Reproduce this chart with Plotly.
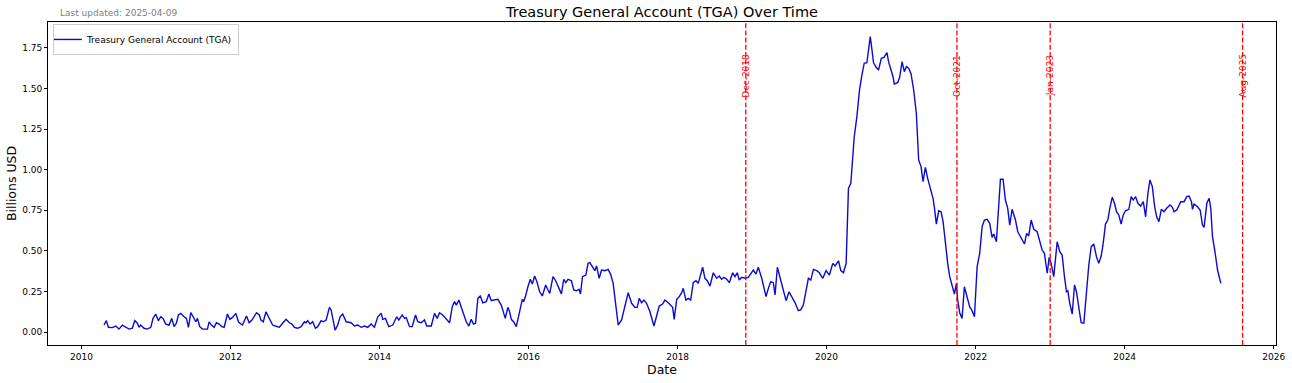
import pandas as pd
import plotly.graph_objects as go

# ---- data (decimal year, value in the chart's units) ----
years = [
    2010.302, 2010.334, 2010.361, 2010.414, 2010.459, 2010.504, 2010.549, 2010.594, 2010.638, 2010.683,
    2010.715, 2010.750, 2010.773, 2010.795, 2010.840, 2010.884, 2010.930, 2010.961, 2010.997, 2011.032,
    2011.064, 2011.095, 2011.132, 2011.176, 2011.212, 2011.243, 2011.274, 2011.301, 2011.333, 2011.378,
    2011.409, 2011.436, 2011.468, 2011.499, 2011.535, 2011.557, 2011.589, 2011.624, 2011.691, 2011.714,
    2011.745, 2011.781, 2011.812, 2011.848, 2011.884, 2011.915, 2011.960, 2011.992, 2012.027, 2012.073,
    2012.107, 2012.140, 2012.161, 2012.215, 2012.251, 2012.288, 2012.319, 2012.349, 2012.386, 2012.408,
    2012.440, 2012.476, 2012.497, 2012.543, 2012.565, 2012.601, 2012.655, 2012.699, 2012.745, 2012.789,
    2012.825, 2012.856, 2012.901, 2012.946, 2012.991, 2013.013, 2013.035, 2013.067, 2013.102, 2013.138,
    2013.169, 2013.215, 2013.246, 2013.282, 2013.327, 2013.349, 2013.371, 2013.403, 2013.438, 2013.470,
    # 2013.5 - 2016.8
    2013.505, 2013.551, 2013.618, 2013.663, 2013.707, 2013.753, 2013.797, 2013.841, 2013.887, 2013.931,
    2013.976, 2014.022, 2014.043, 2014.079, 2014.124, 2014.177, 2014.231, 2014.258, 2014.304, 2014.335,
    2014.358, 2014.402, 2014.438, 2014.483, 2014.513, 2014.559, 2014.603, 2014.634, 2014.694, 2014.738,
    2014.774, 2014.805, 2014.849, 2014.895, 2014.940, 2014.976, 2015.007, 2015.030, 2015.065, 2015.097,
    2015.128, 2015.164, 2015.199, 2015.231, 2015.262, 2015.289, 2015.320, 2015.352, 2015.387, 2015.433,
    2015.468, 2015.500, 2015.534, 2015.589, 2015.634, 2015.665, 2015.688, 2015.723, 2015.746, 2015.769,
    2015.800, 2015.836, 2015.880, 2015.917, 2015.934, 2015.961, 2015.992, 2016.024, 2016.051, 2016.082,
    2016.113, 2016.149, 2016.185, 2016.230, 2016.261, 2016.284, 2016.328, 2016.364, 2016.409, 2016.441,
    2016.472, 2016.499, 2016.530, 2016.575, 2016.606, 2016.642, 2016.677, 2016.696, 2016.723, 2016.768,
    2016.798,
    # 2016.8 - 2020.0
    2016.821, 2016.857, 2016.888, 2016.911, 2016.946, 2016.978, 2017.023, 2017.067, 2017.099, 2017.134,
    2017.171, 2017.202, 2017.247, 2017.292, 2017.336, 2017.382, 2017.426, 2017.457, 2017.484, 2017.516,
    2017.547, 2017.583, 2017.628, 2017.682, 2017.718, 2017.753, 2017.798, 2017.829, 2017.874, 2017.906,
    2017.933, 2017.954, 2017.987, 2018.022, 2018.054, 2018.075, 2018.111, 2018.143, 2018.175, 2018.210,
    2018.246, 2018.277, 2018.309, 2018.336, 2018.367, 2018.398, 2018.434, 2018.479, 2018.524, 2018.559,
    2018.591, 2018.622, 2018.659, 2018.694, 2018.739, 2018.770, 2018.801, 2018.828, 2018.860, 2018.905,
    2018.949, 2018.981, 2019.016, 2019.052, 2019.083, 2019.129, 2019.187, 2019.218, 2019.250, 2019.285,
    2019.308, 2019.339, 2019.375, 2019.411, 2019.456, 2019.496, 2019.532, 2019.577, 2019.621, 2019.653,
    2019.688, 2019.725, 2019.756, 2019.788, 2019.823, 2019.868, 2019.903, 2019.949, 2019.993,
    # 2020 - 2022.5
    2020.038, 2020.083, 2020.114, 2020.159, 2020.191, 2020.226, 2020.262, 2020.293, 2020.325, 2020.352,
    2020.370, 2020.406, 2020.441, 2020.473, 2020.504, 2020.540, 2020.562, 2020.585, 2020.608, 2020.629,
    2020.665, 2020.696, 2020.733, 2020.769, 2020.809, 2020.830, 2020.863, 2020.890, 2020.907, 2020.952,
    2020.979, 2021.011, 2021.042, 2021.069, 2021.100, 2021.132, 2021.167, 2021.203, 2021.234, 2021.266,
    2021.293, 2021.324, 2021.355, 2021.391, 2021.427, 2021.445, 2021.472, 2021.503, 2021.535, 2021.562,
    2021.593, 2021.624, 2021.651, 2021.683, 2021.714, 2021.741, 2021.758, 2021.785, 2021.817, 2021.848,
    2021.884, 2021.919, 2021.952, 2021.983, 2022.019, 2022.054, 2022.086, 2022.117, 2022.153, 2022.188,
    2022.220, 2022.242, 2022.278, 2022.309, 2022.332, 2022.368, 2022.399, 2022.430, 2022.457, 2022.489,
    # 2022.5 - 2025.3
    2022.534, 2022.565, 2022.610, 2022.655, 2022.683, 2022.712, 2022.745, 2022.780, 2022.825, 2022.860,
    2022.892, 2022.923, 2022.960, 2022.987, 2023.013, 2023.048, 2023.094, 2023.129, 2023.161, 2023.192,
    2023.219, 2023.237, 2023.263, 2023.296, 2023.327, 2023.353, 2023.384, 2023.416, 2023.452, 2023.488,
    2023.519, 2023.551, 2023.586, 2023.622, 2023.653, 2023.685, 2023.712, 2023.743, 2023.774, 2023.801,
    2023.833, 2023.864, 2023.891, 2023.922, 2023.953, 2023.981, 2024.011, 2024.056, 2024.088, 2024.115,
    2024.147, 2024.177, 2024.214, 2024.250, 2024.281, 2024.312, 2024.339, 2024.371, 2024.402, 2024.429,
    2024.459, 2024.492, 2024.527, 2024.563, 2024.608, 2024.640, 2024.661, 2024.698, 2024.751, 2024.796,
    2024.832, 2024.863, 2024.895, 2024.909, 2024.930, 2024.976, 2025.011, 2025.043, 2025.064, 2025.101,
    2025.132, 2025.154, 2025.177, 2025.207, 2025.245, 2025.289,
]

tga = [
    0.043, 0.070, 0.029, 0.027, 0.037, 0.018, 0.043, 0.029, 0.018, 0.023,
    0.070, 0.054, 0.029, 0.043, 0.023, 0.018, 0.029, 0.084, 0.111, 0.070,
    0.094, 0.084, 0.049, 0.043, 0.084, 0.033, 0.054, 0.105, 0.115, 0.094,
    0.084, 0.029, 0.119, 0.094, 0.063, 0.084, 0.033, 0.018, 0.018, 0.063,
    0.043, 0.029, 0.057, 0.049, 0.033, 0.029, 0.111, 0.078, 0.090, 0.115,
    0.063, 0.049, 0.043, 0.099, 0.057, 0.074, 0.094, 0.119, 0.105, 0.074,
    0.063, 0.125, 0.105, 0.063, 0.043, 0.037, 0.029, 0.054, 0.078, 0.057,
    0.049, 0.029, 0.023, 0.033, 0.063, 0.057, 0.070, 0.049, 0.063, 0.023,
    0.033, 0.070, 0.063, 0.074, 0.152, 0.136, 0.084, 0.012, 0.043, 0.094,
    # 2013.5 - 2016.8
    0.111, 0.063, 0.057, 0.037, 0.043, 0.029, 0.037, 0.029, 0.049, 0.029,
    0.094, 0.115, 0.078, 0.084, 0.033, 0.043, 0.094, 0.074, 0.105, 0.084,
    0.090, 0.033, 0.033, 0.105, 0.063, 0.057, 0.074, 0.037, 0.037, 0.115,
    0.084, 0.119, 0.105, 0.084, 0.057, 0.156, 0.187, 0.166, 0.197, 0.152,
    0.115, 0.063, 0.037, 0.078, 0.049, 0.054, 0.207, 0.222, 0.180, 0.187,
    0.234, 0.193, 0.197, 0.201, 0.166, 0.125, 0.084, 0.152, 0.125, 0.078,
    0.063, 0.033, 0.115, 0.201, 0.187, 0.222, 0.279, 0.325, 0.296, 0.345,
    0.310, 0.248, 0.222, 0.290, 0.259, 0.238, 0.341, 0.316, 0.269, 0.234,
    0.325, 0.304, 0.325, 0.316, 0.259, 0.254, 0.263, 0.234, 0.341, 0.351,
    0.423,
    # 2016.8 - 2020.0
    0.427, 0.402, 0.378, 0.407, 0.331, 0.382, 0.378, 0.386, 0.357, 0.300,
    0.177, 0.043, 0.074, 0.156, 0.242, 0.177, 0.152, 0.152, 0.207, 0.180,
    0.197, 0.177, 0.125, 0.037, 0.105, 0.160, 0.172, 0.197, 0.180, 0.166,
    0.152, 0.078, 0.201, 0.218, 0.242, 0.269, 0.197, 0.207, 0.197, 0.304,
    0.316, 0.300, 0.362, 0.399, 0.331, 0.316, 0.283, 0.365, 0.331, 0.345,
    0.325, 0.337, 0.325, 0.304, 0.365, 0.341, 0.365, 0.320, 0.337, 0.331,
    0.337, 0.362, 0.382, 0.357, 0.399, 0.331, 0.218, 0.269, 0.310, 0.304,
    0.228, 0.399, 0.331, 0.279, 0.193, 0.248, 0.218, 0.180, 0.131, 0.136,
    0.166, 0.259, 0.331, 0.320, 0.386, 0.378, 0.365, 0.331, 0.378,
    # 2020 - 2022.5
    0.351, 0.423, 0.407, 0.439, 0.378, 0.365, 0.423, 0.885, 0.916, 1.121,
    1.200, 1.327, 1.491, 1.583, 1.656, 1.659, 1.738, 1.820, 1.738, 1.659,
    1.631, 1.614, 1.686, 1.692, 1.721, 1.666, 1.614, 1.573, 1.528, 1.536,
    1.569, 1.666, 1.604, 1.635, 1.625, 1.590, 1.491, 1.348, 1.060, 1.019,
    0.926, 1.015, 0.947, 0.885, 0.824, 0.768, 0.665, 0.747, 0.741, 0.680,
    0.546, 0.423, 0.341, 0.290, 0.234, 0.300, 0.197, 0.119, 0.084, 0.279,
    0.218, 0.156, 0.131, 0.094, 0.402, 0.485, 0.649, 0.690, 0.694, 0.670,
    0.583, 0.604, 0.556, 0.752, 0.941, 0.941, 0.813, 0.762, 0.659, 0.756,
    # 2022.5 - 2025.3
    0.690, 0.618, 0.583, 0.542, 0.608, 0.592, 0.690, 0.633, 0.618, 0.556,
    0.505, 0.485, 0.362, 0.460, 0.423, 0.341, 0.556, 0.495, 0.474, 0.341,
    0.248, 0.254, 0.177, 0.111, 0.290, 0.248, 0.136, 0.057, 0.054, 0.269,
    0.413, 0.526, 0.542, 0.464, 0.423, 0.468, 0.546, 0.665, 0.690, 0.762,
    0.830, 0.793, 0.741, 0.721, 0.665, 0.721, 0.747, 0.756, 0.834, 0.813,
    0.834, 0.793, 0.776, 0.803, 0.710, 0.855, 0.937, 0.896, 0.772, 0.710,
    0.680, 0.756, 0.741, 0.762, 0.782, 0.768, 0.741, 0.752, 0.803, 0.803,
    0.834, 0.838, 0.803, 0.756, 0.789, 0.772, 0.752, 0.659, 0.645, 0.793,
    0.824, 0.762, 0.587, 0.505, 0.382, 0.300,
]

event_dates = ["2018-12-01", "2021-10-01", "2023-01-01", "2025-08-01"]
event_labels = ["Dec-2018", "Oct-2021", "Jan-2023", "Aug-2025"]

series_name = "Treasury General Account (TGA)"
title_text = "Treasury General Account (TGA) Over Time"
updated_text = "Last updated: 2025-04-09"


def dec_to_date(y):
    yr = int(y)
    start = pd.Timestamp(year=yr, month=1, day=1)
    end = pd.Timestamp(year=yr + 1, month=1, day=1)
    return start + (end - start) * (y - yr)


dates = [dec_to_date(y) for y in years]

FONT = "DejaVu Sans"
W, H = 1292, 383
L, R, T, B = 48, 16, 22, 38
pw, ph = W - L - R, H - T - B

fig = go.Figure()
fig.add_trace(go.Scatter(
    x=dates, y=tga, mode="lines", name=series_name,
    line=dict(color="#0a0ad0", width=1.4),
))

for d in event_dates:
    fig.add_shape(type="line", xref="x", yref="paper", x0=d, x1=d, y0=0, y1=1,
                  line=dict(color="red", width=1.3, dash="5px,2.2px"))

for d, lab in zip(event_dates, event_labels):
    fig.add_annotation(x=d, xref="x", y=(H - B - 76) / ph, yref="paper",
                       text=lab, textangle=-90, showarrow=False,
                       font=dict(family=FONT, size=9, color="red"),
                       xanchor="center", yanchor="middle")

fig.add_annotation(x=(58 - L) / pw, xref="paper", y=(H - B - 13) / ph, yref="paper",
                   text=updated_text, showarrow=False, xanchor="left", yanchor="middle",
                   font=dict(family=FONT, size=9, color="#808080"))

fig.update_layout(
    width=W, height=H,
    margin=dict(l=L, r=R, t=T, b=B, autoexpand=False),
    paper_bgcolor="white", plot_bgcolor="white",
    font=dict(family=FONT, size=9, color="black"),
    title=dict(text=title_text, x=(L + pw / 2) / W, xanchor="center",
               y=1 - 12 / H, yanchor="middle", yref="container",
               font=dict(family=FONT, size=14.5, color="black")),
    showlegend=True,
    legend=dict(x=0.004, y=0.994, xanchor="left", yanchor="top",
                bgcolor="rgba(255,255,255,0.8)", bordercolor="#cccccc", borderwidth=1,
                font=dict(family=FONT, size=9), itemwidth=30, indentation=-7),
    xaxis=dict(
        type="date",
        range=[dec_to_date(2009.55), dec_to_date(2026.03)],
        tick0="2010-01-01", dtick="M24", tickformat="%Y",
        showgrid=False, zeroline=False,
        showline=True, linecolor="black", linewidth=0.8, mirror=True,
        ticks="outside", ticklen=3, tickcolor="black", tickwidth=0.8,
        tickfont=dict(family=FONT, size=9),
        title=dict(text="Date", font=dict(family=FONT, size=12.5), standoff=4),
        automargin=False,
    ),
    yaxis=dict(
        range=[-0.08, 1.91],
        tick0=0, dtick=0.25, tickformat=".2f",
        showgrid=False, zeroline=False,
        showline=True, linecolor="black", linewidth=0.8, mirror=True,
        ticks="outside", ticklen=3, tickcolor="black", tickwidth=0.8,
        tickfont=dict(family=FONT, size=9),
        title=dict(text="Billions USD", font=dict(family=FONT, size=12.5), standoff=2),
        automargin=False,
    ),
)

fig.write_html("out.html", config={"displayModeBar": False},
               post_script="document.body.style.margin='0';")
